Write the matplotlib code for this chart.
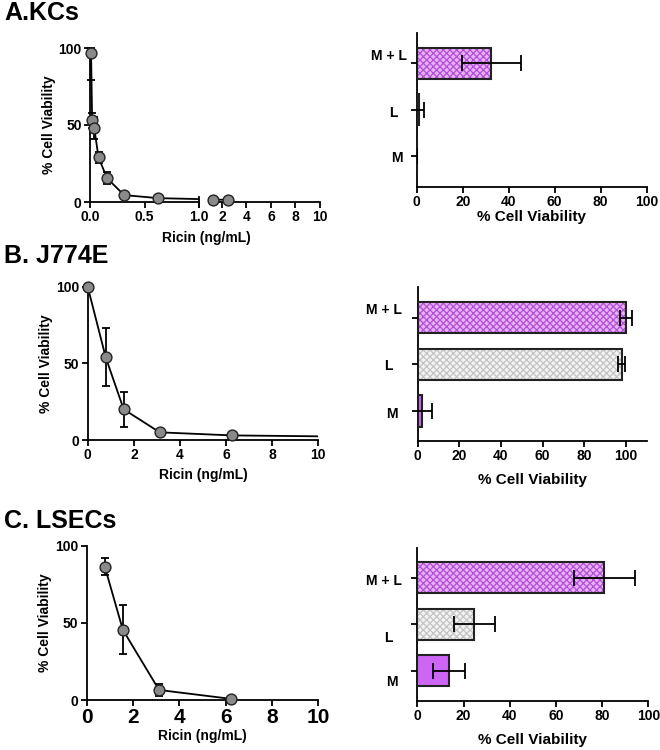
import matplotlib
matplotlib.use("Agg")
from matplotlib import pyplot as plt
from matplotlib.transforms import ScaledTranslation

plt.rcParams['font.family'] = ['Liberation Sans', 'DejaVu Sans']
plt.rcParams['font.weight'] = 'bold'
plt.rcParams['axes.labelweight'] = 'bold'
plt.rcParams['axes.linewidth'] = 1.3
plt.rcParams['hatch.linewidth'] = 0.9

# A. KCs dose response
kc_dose = [0.0098, 0.0195, 0.039, 0.078, 0.156, 0.3125, 0.625, 1.25, 2.5]
kc_viab = [97, 53, 48, 29, 15.5, 4.5, 2.5, 1.5, 1.5]
kc_err_lo = [18, 5, 7, 3.5, 4, 1, 1, 0.5, 0.5]
kc_err_hi = [3, 5, 7, 3.5, 4, 1, 1, 0.5, 0.5]

# B. J774E dose response
j7_dose = [0, 0.78, 1.56, 3.125, 6.25, 12.5]
j7_viab = [100, 54, 20, 5, 3, 2]
j7_err = [0, 19, 11.5, 0.5, 0.5, 0]

# C. LSECs dose response
ls_dose = [0.78, 1.56, 3.125, 6.25]
ls_viab = [86.5, 45.5, 6.5, 0.7]
ls_err = [5.5, 16, 4, 0.3]

# bars: M, L, M + L
groups = ['M', 'L', 'M + L']
kc_bar = [0, 1.2, 32.5]
kc_bar_err = [0, 2.0, 13]
j7_bar = [2.3, 98, 100]
j7_bar_err = [4.7, 1.7, 3]
ls_bar = [13.8, 24.7, 81]
ls_bar_err = [6.8, 9, 13.3]

panel_titles = ['A.KCs', 'B. J774E', 'C. LSECs']

fig = plt.figure(figsize=(6.6, 7.5), dpi=100)
W, H = 660.0, 750.0


def box(x0, x1, ytop, ybot):
    return [x0 / W, 1 - ybot / H, (x1 - x0) / W, (ybot - ytop) / H]


def style(ax, left=True):
    for s in ['top', 'right']:
        ax.spines[s].set_visible(False)
    if not left:
        ax.spines['left'].set_visible(False)
        ax.tick_params(axis='y', left=False, labelleft=False)
    ax.tick_params(direction='out', length=4, width=1.3, labelsize=10, pad=2)
    for lbl in ax.get_xticklabels() + ax.get_yticklabels():
        lbl.set_fontweight('bold')


def curve(ax, x, y, elo, ehi, lo=None, hi=None):
    ax.plot(x, y, color='black', lw=1.3, zorder=2)
    sel = [i for i in range(len(x)) if (lo is None or x[i] >= lo) and (hi is None or x[i] <= hi)]
    xs = [x[i] for i in sel]
    ys = [y[i] for i in sel]
    es = [[elo[i] for i in sel], [ehi[i] for i in sel]]
    ax.errorbar(xs, ys, yerr=es, fmt='none', ecolor='black', elinewidth=1.3,
                capsize=3, capthick=1.3, zorder=3, clip_on=False)
    ax.plot(xs, ys, 'o', ms=7.8, mfc='#8a8a8a', mec='#222222', mew=1.0,
            zorder=4, clip_on=False)


def bars(ax, vals, errs, xmax, offsets, label_pad):
    pos = list(range(len(groups)))
    face = ['#cd66f5', '#f3f3f3', '#e8b0f6']
    hatchc = ['#cd66f5', '#c4c4c4', '#b24fd6']
    hatches = [None, 'xxxxx', 'xxxxx']
    ax.barh(pos, vals, height=0.67, color=face, lw=0, zorder=1)
    for i in pos:
        if hatches[i]:
            ax.barh(pos[i], vals[i], height=0.67, color='none', edgecolor=hatchc[i],
                    hatch=hatches[i], lw=0, zorder=2)
    ax.barh(pos, vals, height=0.67, color='none', edgecolor='#222222', lw=1.5, zorder=3)
    ax.errorbar(vals, pos, xerr=errs, fmt='none', ecolor='black', elinewidth=1.3,
                capsize=5.5, capthick=1.3, zorder=4)
    ax.set_xlim(0, xmax)
    ax.set_xticks(range(0, 101, 20))
    ax.set_yticks(pos)
    ax.set_yticklabels(groups, fontsize=11, fontweight='bold')
    ax.set_xlabel('% Cell Viability', fontsize=11, labelpad=label_pad)
    style(ax)
    for lbl, (dx, dy) in zip(ax.get_yticklabels(), offsets):
        lbl.set_transform(lbl.get_transform() +
                          ScaledTranslation(dx / 100.0, dy / 100.0, fig.dpi_scale_trans))


# ---- A left (broken x axis)
ax1 = fig.add_axes(box(90, 199, 48, 202))
ax2 = fig.add_axes(box(212, 320, 48, 202))
curve(ax1, kc_dose, kc_viab, kc_err_lo, kc_err_hi, hi=1.0)
curve(ax2, kc_dose, kc_viab, kc_err_lo, kc_err_hi, lo=1.2)
ax1.set_xlim(0, 1.0)
ax2.set_xlim(1.2, 10)
for a in (ax1, ax2):
    a.set_ylim(0, 100)
ax1.set_xticks([0, 0.5, 1.0])
ax1.set_xticklabels(['0.0', '0.5', '1.0'])
ax2.set_xticks([2, 4, 6, 8, 10])
ax1.set_yticks([0, 50, 100])
style(ax1)
style(ax2, left=False)
ax1.axvline(1.0, ymin=-0.035, ymax=0.035, color='black', lw=1.3, clip_on=False)
ax1.set_ylabel('% Cell Viability', fontsize=10, labelpad=2)
fig.text(206 / W, 1 - 238 / H, 'Ricin (ng/mL)', ha='center', va='center',
         fontsize=10, fontweight='bold')

# ---- B left
axb = fig.add_axes(box(87.7, 318.3, 286.7, 440))
curve(axb, j7_dose, j7_viab, j7_err, j7_err, hi=10)
axb.set_xlim(0, 10)
axb.set_ylim(0, 100)
axb.set_xticks(range(0, 11, 2))
axb.set_yticks([0, 50, 100])
style(axb)
axb.set_ylabel('% Cell Viability', fontsize=10, labelpad=2)
axb.set_xlabel('Ricin (ng/mL)', fontsize=10, labelpad=4)

# ---- C left
axc = fig.add_axes(box(86.7, 318.3, 545.7, 700))
curve(axc, ls_dose, ls_viab, ls_err, ls_err)
axc.set_xlim(0, 10)
axc.set_ylim(0, 100)
axc.set_xticks(range(0, 11, 2))
axc.set_yticks([0, 50, 100])
style(axc)
axc.tick_params(axis='x', labelsize=15)
axc.set_ylabel('% Cell Viability', fontsize=10, labelpad=2)
axc.set_xlabel('Ricin (ng/mL)', fontsize=10, labelpad=1)

# ---- right bar panels
axr1 = fig.add_axes(box(416.7, 646.7, 33, 186.7))
bars(axr1, kc_bar, kc_bar_err, 100, [(-5.6, 0), (-10.6, -1.5), (-1.6, 9)], 1)
axr1.set_ylim(-0.66, 2.65)

axr2 = fig.add_axes(box(417.7, 646.7, 287.3, 440.7))
bars(axr2, j7_bar, j7_bar_err, 110, [(-11.6, -1), (-16.6, 0), (-7.6, 9)], 7)
axr2.set_ylim(-0.636, 2.65)

axr3 = fig.add_axes(box(417.3, 648.3, 547.7, 701))
bars(axr3, ls_bar, ls_bar_err, 100, [(-11.6, -10), (-16.6, -12), (-7.3, -1.3)], 7)
axr3.set_ylim(-0.65, 2.645)

for t, yb in zip(panel_titles, [20, 263, 528]):
    fig.text(4 / W, 1 - yb / H, t, fontsize=18, fontweight='bold', va='baseline')

fig.savefig('out.png', dpi=100)
